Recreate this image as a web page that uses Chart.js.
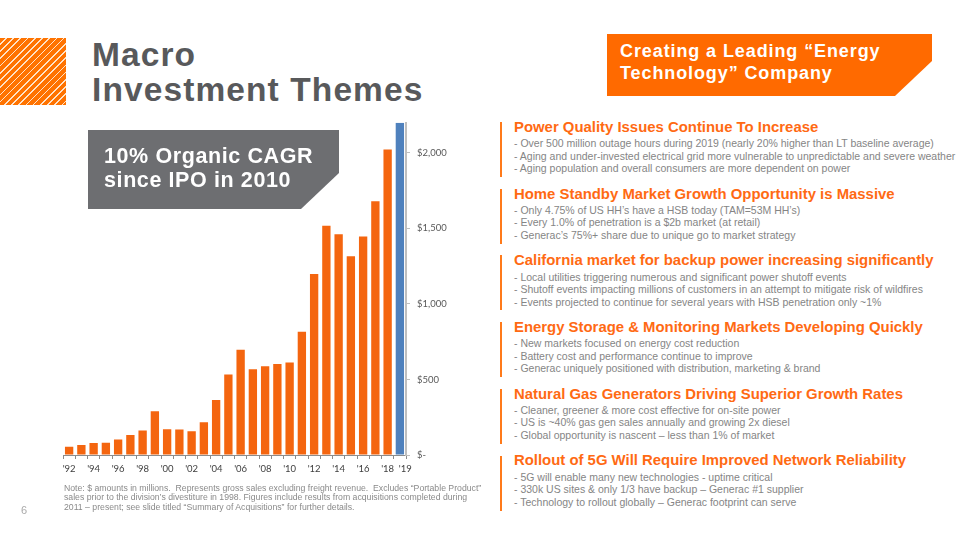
<!DOCTYPE html>
<html>
<head>
<meta charset="utf-8">
<script src="https://cdn.jsdelivr.net/npm/chart.js@4.4.1/dist/chart.umd.min.js"></script>
<style>
  html, body { margin:0; padding:0; background:#fff; }
  body { width:959px; height:540px; position:relative; overflow:hidden; }
  .abs { position:absolute; white-space:nowrap; line-height:1; }
  .hatch { position:absolute; left:0; top:38px; width:66px; height:67px;
    background: repeating-linear-gradient(135deg, #FF7300 0px, #FF7300 3.9px, #FFE3C8 3.9px, #FFE3C8 5.1px); }
  .title { font-family:"Liberation Sans", Arial, sans-serif; font-weight:bold; font-size:33.5px; letter-spacing:1.1px; color:#58595B; left:92px; }
  .cagr { position:absolute; left:88px; top:130px; width:251px; height:79px; background:#6D6E71;
    clip-path: polygon(0 0, 100% 0, 100% 43px, 213px 100%, 0 100%); }
  .cagrt { font-family:"Liberation Sans", Arial, sans-serif; font-weight:bold; font-size:21.5px; letter-spacing:0.6px; color:#fff; left:104px; }
  .banner { position:absolute; left:607px; top:34px; width:325px; height:62px; background:#FF6A00;
    clip-path: polygon(0 0, 100% 0, 100% 27px, 288px 100%, 0 100%); }
  .bant { font-family:"Liberation Sans", Arial, sans-serif; font-weight:bold; font-size:18px; letter-spacing:0.9px; color:#fff; left:620px; }
  .vbar { position:absolute; left:500px; width:2px; height:55px; background:#FF7A1A; }
  .head { font-family:"Liberation Sans", Arial, sans-serif; font-weight:bold; font-size:14.9px; color:#FF6A13; left:514px; }
  .body { font-family:"Liberation Sans", Arial, sans-serif; font-size:10.5px; color:#858585; left:514px; }
  .note { font-family:"Liberation Sans", Arial, sans-serif; font-size:8.7px; color:#8a8a8a; left:64px; }
  .pg { font-family:"Liberation Sans", Arial, sans-serif; font-size:11px; color:#aaaaaa; left:21px; top:505px; }
  #chartWrap { position:absolute; left:55px; top:110px; width:400px; height:375px; }
</style>
</head>
<body>
<div class="hatch"></div>
<div class="abs title" style="top:38.3px">Macro</div>
<div class="abs title" style="top:72.6px">Investment Themes</div>

<div id="chartWrap"><canvas id="c" width="400" height="375"></canvas></div>

<div class="cagr"></div>
<div class="abs cagrt" style="top:145.8px">10% Organic CAGR</div>
<div class="abs cagrt" style="top:169.8px">since IPO in 2010</div>

<div class="banner"></div>
<div class="abs bant" style="top:41.5px">Creating a Leading “Energy</div>
<div class="abs bant" style="top:64.1px">Technology” Company</div>

<div id="themes"></div>

<div class="abs note" style="top:483.6px">Note: $ amounts in millions.&nbsp; Represents gross sales excluding freight revenue.&nbsp; Excludes “Portable Product”</div>
<div class="abs note" style="top:493.1px">sales prior to the division’s divestiture in 1998. Figures include results from acquisitions completed during</div>
<div class="abs note" style="top:502.6px">2011 – present; see slide titled “Summary of Acquisitions” for further details.</div>
<div class="abs pg">6</div>

<script>
// ---- Data ----
const years = ["'92","'93","'94","'95","'96","'97","'98","'99","'00","'01","'02","'03","'04","'05","'06","'07","'08","'09","'10","'11","'12","'13","'14","'15","'16","'17","'18","'19"];
const sales = [55, 66, 79, 81, 103, 132, 162, 290, 171, 169, 158, 217, 364, 533, 697, 567, 588, 603, 612, 816, 1199, 1518, 1461, 1316, 1447, 1680, 2022, 2200];
const yTicks = [0, 500, 1000, 1500, 2000];

const themeHeads = [
  "Power Quality Issues Continue To Increase",
  "Home Standby Market Growth Opportunity is Massive",
  "California market for backup power increasing significantly",
  "Energy Storage & Monitoring Markets Developing Quickly",
  "Natural Gas Generators Driving Superior Growth Rates",
  "Rollout of 5G Will Require Improved Network Reliability"
];
const themeBullets = [
  ["- Over 500 million outage hours during 2019 (nearly 20% higher than LT baseline average)",
   "- Aging and under-invested electrical grid more vulnerable to unpredictable and severe weather",
   "- Aging population and overall consumers are more dependent on power"],
  ["- Only 4.75% of US HH’s have a HSB today (TAM=53M HH’s)",
   "- Every 1.0% of penetration is a $2b market (at retail)",
   "- Generac’s 75%+ share due to unique go to market strategy"],
  ["- Local utilities triggering numerous and significant power shutoff events",
   "- Shutoff events impacting millions of customers in an attempt to mitigate risk of wildfires",
   "- Events projected to continue for several years with HSB penetration only ~1%"],
  ["- New markets focused on energy cost reduction",
   "- Battery cost and performance continue to improve",
   "- Generac uniquely positioned with distribution, marketing & brand"],
  ["- Cleaner, greener & more cost effective for on-site power",
   "- US is ~40% gas gen sales annually and growing 2x diesel",
   "- Global opportunity is nascent – less than 1% of market"],
  ["- 5G will enable many new technologies - uptime critical",
   "- 330k US sites & only 1/3 have backup – Generac #1 supplier",
   "- Technology to rollout globally – Generac footprint can serve"]
];

// ---- Right-hand text ----
const themes = document.getElementById('themes');
themeHeads.forEach((h, k) => {
  const base = 132.6 + 66.7 * k;
  const bar = document.createElement('div');
  bar.className = 'vbar';
  bar.style.top = (base - 10.6) + 'px';
  themes.appendChild(bar);
  const hd = document.createElement('div');
  hd.className = 'abs head';
  hd.style.top = (base - 0.8465 * 14.9) + 'px';
  hd.textContent = h;
  themes.appendChild(hd);
  themeBullets[k].forEach((t, j) => {
    const d = document.createElement('div');
    d.className = 'abs body';
    d.style.top = (base + 14.4 + 12.5 * j - 0.8465 * 10.5) + 'px';
    d.textContent = t;
    themes.appendChild(d);
  });
});

// ---- Chart ----
const lastIdx = sales.length - 1;
new Chart(document.getElementById('c'), {
  type: 'bar',
  data: {
    labels: years,
    datasets: [{
      data: sales,
      backgroundColor: ctx => ctx.dataIndex === lastIdx ? '#4F81BD' : '#F4650F',
      borderWidth: 0,
      barPercentage: 0.68,
      categoryPercentage: 1.0
    }]
  },
  options: {
    responsive: false,
    animation: false,
    layout: { padding: { left: 8, top: 10, right: 0, bottom: 0 } },
    plugins: { legend: { display: false }, tooltip: { enabled: false } },
    scales: {
      x: {
        offset: true,
        afterFit: s => { s.height = 30; },
        grid: { drawOnChartArea: false, drawTicks: true, tickLength: 4, color: '#8c8c8c', offset: true },
        border: { display: true, color: '#8c8c8c', width: 1 },
        ticks: {
          autoSkip: false, maxRotation: 0, minRotation: 0, padding: 4,
          color: '#404040', font: { family: 'Lato', size: 9.5 },
          callback: function (v, i) {
            if (i === lastIdx) return '\u2002\u2002\u2009' + years[i];
            return (i % 2 === 0) ? years[i] : '';
          }
        }
      },
      y: {
        position: 'right',
        min: 0, max: 2200,
        afterFit: s => { s.width = 49; },
        afterBuildTicks: s => { s.ticks = yTicks.map(v => ({ value: v })); },
        grid: { drawOnChartArea: false, drawTicks: true, tickLength: 4, color: '#bfbfbf' },
        border: { display: true, color: '#bfbfbf', width: 2 },
        ticks: {
          padding: 7,
          color: '#595959', font: { family: 'Lato', size: 9.5 },
          callback: v => v === 0 ? '$-' : '$' + v.toLocaleString('en-US')
        }
      }
    }
  }
});
</script>
</body>
</html>
